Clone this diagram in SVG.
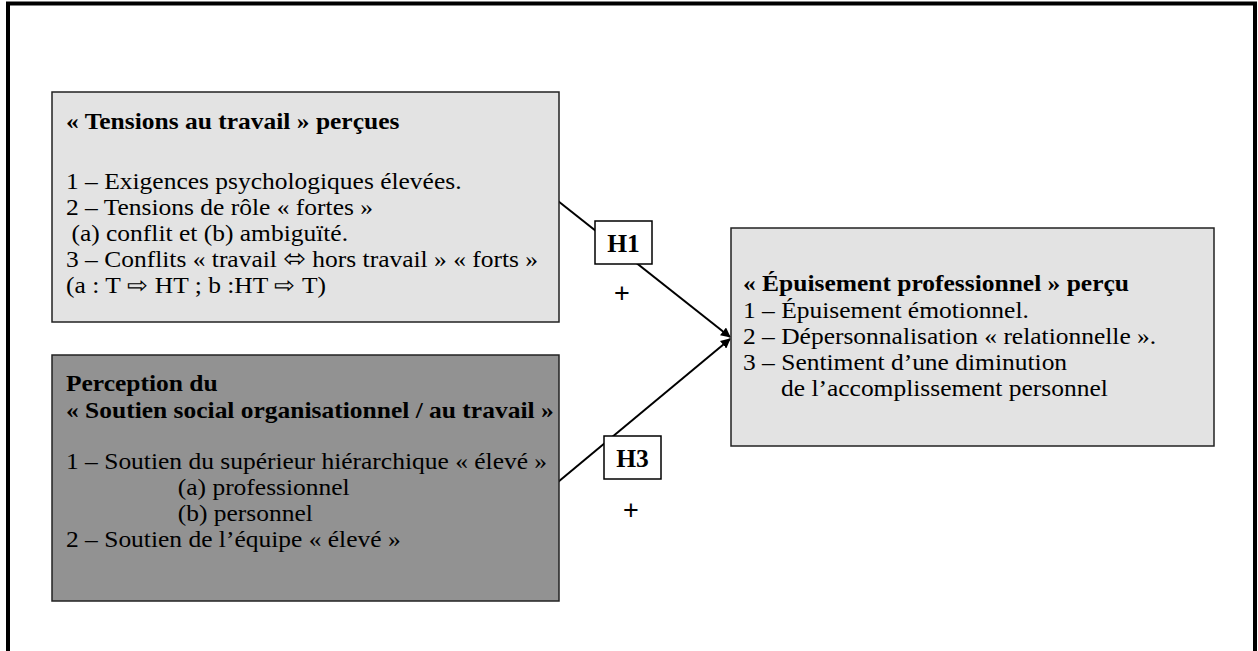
<svg xmlns="http://www.w3.org/2000/svg" width="1258" height="651" viewBox="0 0 1258 651">
<defs>
<style>
.t{font-family:"Liberation Serif","Times New Roman",serif;font-size:23.5px;fill:#000}
.h{font-family:"Liberation Serif","Times New Roman",serif;font-size:25.5px;font-weight:bold;fill:#000;text-anchor:middle}
.b{font-weight:bold}
.box{stroke:#222;stroke-width:1.5}
.lbl{fill:#fff;stroke:#000;stroke-width:1.5}
.plus{font-family:"Liberation Sans",Arial,sans-serif;font-size:27px;fill:#000;text-anchor:middle}
.con{stroke:#000;stroke-width:2;fill:none}
.arw{font-family:"DejaVu Sans",sans-serif;font-size:25px}
</style>
<marker id="arr" viewBox="0 0 10 10" refX="9" refY="5" markerWidth="5" markerHeight="5" orient="auto" markerUnits="strokeWidth">
<path d="M0,0 L10,5 L0,10 z" fill="#000"/>
</marker>
</defs>
<rect width="1258" height="651" fill="#fff"/>
<path d="M8,660 V3.5 H1255 V660" fill="none" stroke="#000" stroke-width="4"/>

<g id="connectors">
<line class="con" x1="558" y1="201" x2="730" y2="337" marker-end="url(#arr)"/>
<line class="con" x1="558" y1="482" x2="730" y2="339" marker-end="url(#arr)"/>
</g>

<g id="tensions">
<rect class="box" x="52" y="92" width="507" height="230" fill="#e3e3e3"/>
<g transform="translate(66 0) scale(1.085 1)">
<text class="t b" x="0" y="129">« Tensions au travail » perçues</text>
<text class="t" x="0" y="189">1 – Exigences psychologiques élevées.</text>
<text class="t" x="0" y="215">2 – Tensions de rôle « fortes »</text>
<text class="t" x="5" y="241">(a) conflit et (b) ambiguïté.</text>
<text class="t" x="0" y="267">3 – Conflits « travail <tspan class="arw">⬄</tspan> hors travail » « forts »</text>
<text class="t" x="0" y="293">(a : T ⇨ HT ; b :HT ⇨ T)</text>
</g>
</g>

<g id="soutien">
<rect class="box" x="52" y="355" width="507" height="246" fill="#929292"/>
<g transform="translate(66 0) scale(1.085 1)">
<text class="t b" x="0" y="391">Perception du</text>
<text class="t b" x="0" y="418">« Soutien social organisationnel / au travail »</text>
<text class="t" x="0" y="469">1 – Soutien du supérieur hiérarchique « élevé »</text>
<text class="t" x="103" y="495">(a) professionnel</text>
<text class="t" x="103" y="521">(b) personnel</text>
<text class="t" x="0" y="547">2 – Soutien de l’équipe « élevé »</text>
</g>
</g>

<g id="epuisement">
<rect class="box" x="731" y="228" width="483" height="218" fill="#e3e3e3"/>
<g transform="translate(743 0) scale(1.085 1)">
<text class="t b" x="0" y="291">« Épuisement professionnel » perçu</text>
<text class="t" x="0" y="318">1 – Épuisement émotionnel.</text>
<text class="t" x="0" y="344">2 – Dépersonnalisation « relationnelle ».</text>
<text class="t" x="0" y="370">3 – Sentiment d’une diminution</text>
<text class="t" x="35" y="396">de l’accomplissement personnel</text>
</g>
</g>

<g id="h1">
<rect class="lbl" x="595" y="221" width="57" height="43"/>
<text class="h" x="623.5" y="252">H1</text>
<text class="plus" x="622" y="302">+</text>
</g>

<g id="h3">
<rect class="lbl" x="604" y="436" width="57" height="43"/>
<text class="h" x="632.5" y="467">H3</text>
<text class="plus" x="631" y="518.5">+</text>
</g>
</svg>
